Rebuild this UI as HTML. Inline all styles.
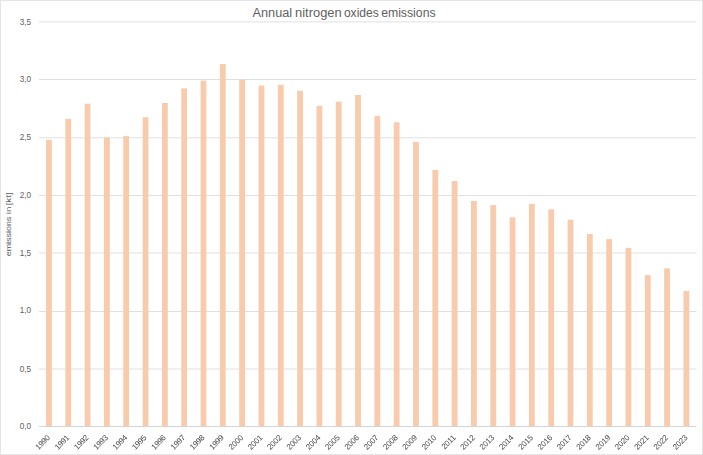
<!DOCTYPE html>
<html><head><meta charset="utf-8"><title>Annual nitrogen oxides emissions</title>
<style>
html,body{margin:0;padding:0;background:#fff;}
body{width:703px;height:455px;overflow:hidden;}
svg{display:block;font-family:'Liberation Sans', Arial, sans-serif;}
</style></head><body>
<svg width="703" height="455" viewBox="0 0 703 455">
<rect x="0.5" y="0.5" width="702" height="454" fill="#fff" stroke="#e5e5e5" stroke-width="1"/>
<line x1="39" x2="696.5" y1="369.00" y2="369.00" stroke="#e0e0e0" stroke-width="1"/>
<line x1="39" x2="696.5" y1="311.50" y2="311.50" stroke="#e0e0e0" stroke-width="1"/>
<line x1="39" x2="696.5" y1="253.00" y2="253.00" stroke="#e0e0e0" stroke-width="1"/>
<line x1="39" x2="696.5" y1="195.50" y2="195.50" stroke="#e0e0e0" stroke-width="1"/>
<line x1="39" x2="696.5" y1="137.80" y2="137.80" stroke="#e0e0e0" stroke-width="1"/>
<line x1="39" x2="696.5" y1="79.50" y2="79.50" stroke="#e0e0e0" stroke-width="1"/>
<line x1="39" x2="696.5" y1="21.90" y2="21.90" stroke="#e0e0e0" stroke-width="1"/>
<rect x="46.05" y="139.80" width="5.8" height="286.20" fill="#f8cbad"/>
<rect x="65.37" y="118.90" width="5.8" height="307.10" fill="#f8cbad"/>
<rect x="84.68" y="103.70" width="5.8" height="322.30" fill="#f8cbad"/>
<rect x="104.00" y="137.50" width="5.8" height="288.50" fill="#f8cbad"/>
<rect x="123.32" y="136.10" width="5.8" height="289.90" fill="#f8cbad"/>
<rect x="142.64" y="117.30" width="5.8" height="308.70" fill="#f8cbad"/>
<rect x="161.95" y="103.00" width="5.8" height="323.00" fill="#f8cbad"/>
<rect x="181.27" y="88.40" width="5.8" height="337.60" fill="#f8cbad"/>
<rect x="200.59" y="80.70" width="5.8" height="345.30" fill="#f8cbad"/>
<rect x="219.90" y="64.10" width="5.8" height="361.90" fill="#f8cbad"/>
<rect x="239.22" y="79.70" width="5.8" height="346.30" fill="#f8cbad"/>
<rect x="258.54" y="85.60" width="5.8" height="340.40" fill="#f8cbad"/>
<rect x="277.85" y="84.80" width="5.8" height="341.20" fill="#f8cbad"/>
<rect x="297.17" y="90.80" width="5.8" height="335.20" fill="#f8cbad"/>
<rect x="316.49" y="105.80" width="5.8" height="320.20" fill="#f8cbad"/>
<rect x="335.81" y="101.70" width="5.8" height="324.30" fill="#f8cbad"/>
<rect x="355.12" y="95.00" width="5.8" height="331.00" fill="#f8cbad"/>
<rect x="374.44" y="115.90" width="5.8" height="310.10" fill="#f8cbad"/>
<rect x="393.76" y="122.30" width="5.8" height="303.70" fill="#f8cbad"/>
<rect x="413.07" y="141.90" width="5.8" height="284.10" fill="#f8cbad"/>
<rect x="432.39" y="170.00" width="5.8" height="256.00" fill="#f8cbad"/>
<rect x="451.71" y="181.00" width="5.8" height="245.00" fill="#f8cbad"/>
<rect x="471.02" y="201.00" width="5.8" height="225.00" fill="#f8cbad"/>
<rect x="490.34" y="205.10" width="5.8" height="220.90" fill="#f8cbad"/>
<rect x="509.66" y="217.30" width="5.8" height="208.70" fill="#f8cbad"/>
<rect x="528.98" y="203.90" width="5.8" height="222.10" fill="#f8cbad"/>
<rect x="548.29" y="209.40" width="5.8" height="216.60" fill="#f8cbad"/>
<rect x="567.61" y="219.70" width="5.8" height="206.30" fill="#f8cbad"/>
<rect x="586.93" y="234.00" width="5.8" height="192.00" fill="#f8cbad"/>
<rect x="606.24" y="239.10" width="5.8" height="186.90" fill="#f8cbad"/>
<rect x="625.56" y="247.90" width="5.8" height="178.10" fill="#f8cbad"/>
<rect x="644.88" y="275.10" width="5.8" height="150.90" fill="#f8cbad"/>
<rect x="664.19" y="268.40" width="5.8" height="157.60" fill="#f8cbad"/>
<rect x="683.51" y="290.90" width="5.8" height="135.10" fill="#f8cbad"/>
<line x1="39" x2="696.5" y1="426.5" y2="426.5" stroke="#d4d4d4" stroke-width="1"/>
<text x="31.1" y="429.00" text-anchor="end" font-size="8.2" fill="#606060">0,0</text>
<text x="31.1" y="372.00" text-anchor="end" font-size="8.2" fill="#606060">0,5</text>
<text x="31.1" y="313.00" text-anchor="end" font-size="8.2" fill="#606060">1,0</text>
<text x="31.1" y="256.00" text-anchor="end" font-size="8.2" fill="#606060">1,5</text>
<text x="31.1" y="198.00" text-anchor="end" font-size="8.2" fill="#606060">2,0</text>
<text x="31.1" y="140.00" text-anchor="end" font-size="8.2" fill="#606060">2,5</text>
<text x="31.1" y="82.00" text-anchor="end" font-size="8.2" fill="#606060">3,0</text>
<text x="31.1" y="25.00" text-anchor="end" font-size="8.2" fill="#606060">3,5</text>
<g style="filter:grayscale(1)">
<text x="50.45" y="438.30" text-anchor="end" font-size="8.0" letter-spacing="-0.25" fill="#484848" transform="rotate(-45 50.45 438.30)">1990</text>
<text x="69.77" y="438.30" text-anchor="end" font-size="8.0" letter-spacing="-0.25" fill="#484848" transform="rotate(-45 69.77 438.30)">1991</text>
<text x="89.08" y="438.30" text-anchor="end" font-size="8.0" letter-spacing="-0.25" fill="#484848" transform="rotate(-45 89.08 438.30)">1992</text>
<text x="108.40" y="438.30" text-anchor="end" font-size="8.0" letter-spacing="-0.25" fill="#484848" transform="rotate(-45 108.40 438.30)">1993</text>
<text x="127.72" y="438.30" text-anchor="end" font-size="8.0" letter-spacing="-0.25" fill="#484848" transform="rotate(-45 127.72 438.30)">1994</text>
<text x="147.04" y="438.30" text-anchor="end" font-size="8.0" letter-spacing="-0.25" fill="#484848" transform="rotate(-45 147.04 438.30)">1995</text>
<text x="166.35" y="438.30" text-anchor="end" font-size="8.0" letter-spacing="-0.25" fill="#484848" transform="rotate(-45 166.35 438.30)">1996</text>
<text x="185.67" y="438.30" text-anchor="end" font-size="8.0" letter-spacing="-0.25" fill="#484848" transform="rotate(-45 185.67 438.30)">1997</text>
<text x="204.99" y="438.30" text-anchor="end" font-size="8.0" letter-spacing="-0.25" fill="#484848" transform="rotate(-45 204.99 438.30)">1998</text>
<text x="224.30" y="438.30" text-anchor="end" font-size="8.0" letter-spacing="-0.25" fill="#484848" transform="rotate(-45 224.30 438.30)">1999</text>
<text x="243.62" y="438.30" text-anchor="end" font-size="8.0" letter-spacing="-0.25" fill="#484848" transform="rotate(-45 243.62 438.30)">2000</text>
<text x="262.94" y="438.30" text-anchor="end" font-size="8.0" letter-spacing="-0.25" fill="#484848" transform="rotate(-45 262.94 438.30)">2001</text>
<text x="282.25" y="438.30" text-anchor="end" font-size="8.0" letter-spacing="-0.25" fill="#484848" transform="rotate(-45 282.25 438.30)">2002</text>
<text x="301.57" y="438.30" text-anchor="end" font-size="8.0" letter-spacing="-0.25" fill="#484848" transform="rotate(-45 301.57 438.30)">2003</text>
<text x="320.89" y="438.30" text-anchor="end" font-size="8.0" letter-spacing="-0.25" fill="#484848" transform="rotate(-45 320.89 438.30)">2004</text>
<text x="340.20" y="438.30" text-anchor="end" font-size="8.0" letter-spacing="-0.25" fill="#484848" transform="rotate(-45 340.20 438.30)">2005</text>
<text x="359.52" y="438.30" text-anchor="end" font-size="8.0" letter-spacing="-0.25" fill="#484848" transform="rotate(-45 359.52 438.30)">2006</text>
<text x="378.84" y="438.30" text-anchor="end" font-size="8.0" letter-spacing="-0.25" fill="#484848" transform="rotate(-45 378.84 438.30)">2007</text>
<text x="398.16" y="438.30" text-anchor="end" font-size="8.0" letter-spacing="-0.25" fill="#484848" transform="rotate(-45 398.16 438.30)">2008</text>
<text x="417.47" y="438.30" text-anchor="end" font-size="8.0" letter-spacing="-0.25" fill="#484848" transform="rotate(-45 417.47 438.30)">2009</text>
<text x="436.79" y="438.30" text-anchor="end" font-size="8.0" letter-spacing="-0.25" fill="#484848" transform="rotate(-45 436.79 438.30)">2010</text>
<text x="456.11" y="438.30" text-anchor="end" font-size="8.0" letter-spacing="-0.25" fill="#484848" transform="rotate(-45 456.11 438.30)">2011</text>
<text x="475.42" y="438.30" text-anchor="end" font-size="8.0" letter-spacing="-0.25" fill="#484848" transform="rotate(-45 475.42 438.30)">2012</text>
<text x="494.74" y="438.30" text-anchor="end" font-size="8.0" letter-spacing="-0.25" fill="#484848" transform="rotate(-45 494.74 438.30)">2013</text>
<text x="514.06" y="438.30" text-anchor="end" font-size="8.0" letter-spacing="-0.25" fill="#484848" transform="rotate(-45 514.06 438.30)">2014</text>
<text x="533.38" y="438.30" text-anchor="end" font-size="8.0" letter-spacing="-0.25" fill="#484848" transform="rotate(-45 533.38 438.30)">2015</text>
<text x="552.69" y="438.30" text-anchor="end" font-size="8.0" letter-spacing="-0.25" fill="#484848" transform="rotate(-45 552.69 438.30)">2016</text>
<text x="572.01" y="438.30" text-anchor="end" font-size="8.0" letter-spacing="-0.25" fill="#484848" transform="rotate(-45 572.01 438.30)">2017</text>
<text x="591.33" y="438.30" text-anchor="end" font-size="8.0" letter-spacing="-0.25" fill="#484848" transform="rotate(-45 591.33 438.30)">2018</text>
<text x="610.64" y="438.30" text-anchor="end" font-size="8.0" letter-spacing="-0.25" fill="#484848" transform="rotate(-45 610.64 438.30)">2019</text>
<text x="629.96" y="438.30" text-anchor="end" font-size="8.0" letter-spacing="-0.25" fill="#484848" transform="rotate(-45 629.96 438.30)">2020</text>
<text x="649.28" y="438.30" text-anchor="end" font-size="8.0" letter-spacing="-0.25" fill="#484848" transform="rotate(-45 649.28 438.30)">2021</text>
<text x="668.59" y="438.30" text-anchor="end" font-size="8.0" letter-spacing="-0.25" fill="#484848" transform="rotate(-45 668.59 438.30)">2022</text>
<text x="687.91" y="438.30" text-anchor="end" font-size="8.0" letter-spacing="-0.25" fill="#484848" transform="rotate(-45 687.91 438.30)">2023</text>
</g>
<text y="11.4" font-size="8.1" fill="#595959" transform="rotate(-90)"><tspan x="-256.30" textLength="39.60" lengthAdjust="spacingAndGlyphs">emissions</tspan> <tspan x="-214.20" textLength="7.50" lengthAdjust="spacingAndGlyphs">in</tspan> <tspan x="-205.30" textLength="12.80" lengthAdjust="spacingAndGlyphs">[kt]</tspan></text>
<text y="17.1" font-size="12.3" fill="#5f5f5f"><tspan x="252.50" textLength="39.65" lengthAdjust="spacingAndGlyphs">Annual</tspan> <tspan x="295.10" textLength="46.55" lengthAdjust="spacingAndGlyphs">nitrogen</tspan> <tspan x="343.90" textLength="35.00" lengthAdjust="spacingAndGlyphs">oxides</tspan> <tspan x="381.15" textLength="54.45" lengthAdjust="spacingAndGlyphs">emissions</tspan></text>
</svg>
</body></html>
